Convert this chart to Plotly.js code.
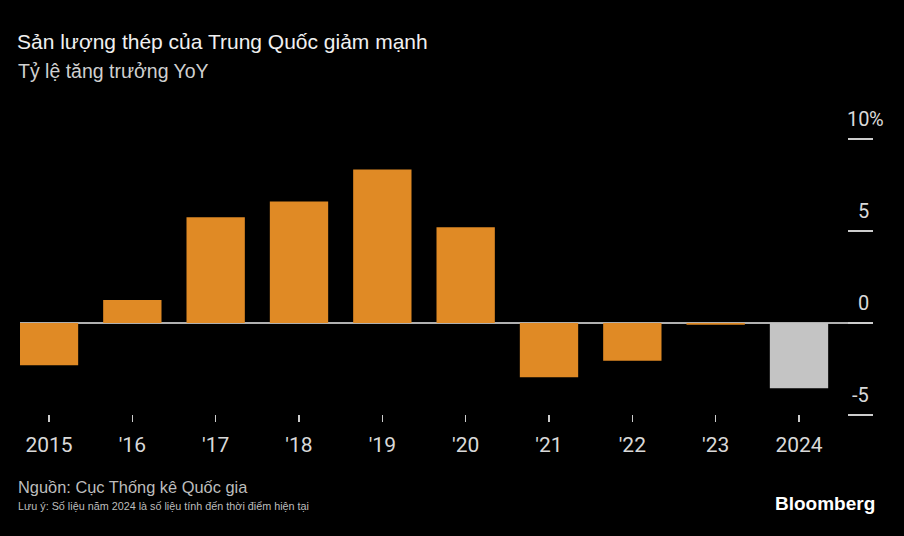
<!DOCTYPE html>
<html>
<head>
<meta charset="utf-8">
<script src="https://cdn.plot.ly/plotly-3.0.1.min.js"></script>
<style>html,body{margin:0;padding:0;background:#000;}#chart{width:904px;height:536px;}</style>
</head>
<body>
<div id="chart"></div>
<script>
// Data
var years = ["2015", "'16", "'17", "'18", "'19", "'20", "'21", "'22", "'23", "2024"];
var growth = [-2.3, 1.25, 5.75, 6.6, 8.35, 5.2, -2.95, -2.05, -0.1, -3.55];
var estimatedYears = ["2024"];
var yTickVals = [-5, 0, 5, 10];
var yTickLabels = ["-5", "0", "5", "10"];

var ORANGE = "#E08A25";
var GREY = "#C4C4C4";
var TICKFONT = "Roboto, Liberation Sans, sans-serif";

var idx = years.map(function (_, i) { return i; });
var colors = years.map(function (y) { return estimatedYears.indexOf(y) >= 0 ? GREY : ORANGE; });

var trace = {
  type: "bar",
  x: idx,
  y: growth,
  marker: { color: colors, line: { width: 0 } },
  hoverinfo: "skip"
};

var annotations = [];
yTickVals.forEach(function (v, i) {
  annotations.push({
    xref: "paper", yref: "y", x: 1, y: v, xshift: -2, yshift: 6,
    xanchor: "right", yanchor: "bottom", showarrow: false,
    text: yTickLabels[i],
    font: { family: TICKFONT, size: 20, color: "#d9d9d9" }
  });
});
// percent sign after top label
annotations.push({
  xref: "paper", yref: "y", x: 1, y: yTickVals[yTickVals.length - 1], xshift: -6, yshift: 6,
  xanchor: "left", yanchor: "bottom", showarrow: false,
  text: "%", font: { family: TICKFONT, size: 20, color: "#d9d9d9" }
});
// subtitle
annotations.push({
  xref: "paper", yref: "paper", x: 0, xshift: -4, y: 1, yshift: 39,
  xanchor: "left", yanchor: "middle", showarrow: false, align: "left",
  text: "Tỷ lệ tăng trưởng YoY",
  font: { family: "Liberation Sans, Arial, sans-serif", size: 19.5, color: "#d0d0d0" }
});
// source
annotations.push({
  xref: "paper", yref: "paper", x: 0, xshift: -4, y: 0, yshift: -65,
  xanchor: "left", yanchor: "middle", showarrow: false, align: "left",
  text: "Nguồn: Cục Thống kê Quốc gia",
  font: { family: "Liberation Sans, Arial, sans-serif", size: 16.4, color: "#bdbdbd" }
});
// note
annotations.push({
  xref: "paper", yref: "paper", x: 0, xshift: -4, y: 0, yshift: -84,
  xanchor: "left", yanchor: "middle", showarrow: false, align: "left",
  text: "Lưu ý: Số liệu năm 2024 là số liệu tính đến thời điểm hiện tại",
  font: { family: "Liberation Sans, sans-serif", size: 10.8, color: "#bdbdbd" }
});
// brand
annotations.push({
  xref: "paper", yref: "paper", x: 1, xshift: 4, y: 0, yshift: -81,
  xanchor: "right", yanchor: "middle", showarrow: false,
  text: "<b>Bloomberg</b>",
  font: { family: "Liberation Sans, Arial, sans-serif", size: 19, color: "#ffffff" }
});

var layout = {
  width: 904, height: 536,
  paper_bgcolor: "#000000", plot_bgcolor: "#000000",
  margin: { l: 20, r: 31, t: 110, b: 114 },
  showlegend: false,
  bargap: 0.30,
  title: {
    text: "Sản lượng thép của Trung Quốc giảm mạnh",
    x: 17 / 904, xanchor: "left", xref: "container",
    y: 1 - 42 / 536, yanchor: "middle", yref: "container",
    font: { family: "Liberation Sans, Arial, sans-serif", size: 21, color: "#f0f0f0" }
  },
  xaxis: {
    range: [-0.348, 9.888],
    tickvals: idx, ticktext: years,
    ticks: "inside", ticklen: 7, tickwidth: 1.5, tickcolor: "#cccccc",
    ticklabelstandoff: 8,
    showgrid: false, zeroline: false, showline: false,
    tickfont: { family: TICKFONT, size: 21, color: "#d9d9d9" },
    fixedrange: true
  },
  yaxis: {
    range: [-5.38, 11.58],
    side: "right",
    tickvals: yTickVals,
    showticklabels: false,
    ticks: "inside", ticklen: 25, tickwidth: 1.5, tickcolor: "#cccccc",
    showgrid: false,
    zeroline: true, zerolinecolor: "#b0b0b0", zerolinewidth: 2,
    showline: false,
    fixedrange: true
  },
  annotations: annotations
};

Plotly.newPlot("chart", [trace], layout, { displayModeBar: false, staticPlot: true });
</script>
</body>
</html>
